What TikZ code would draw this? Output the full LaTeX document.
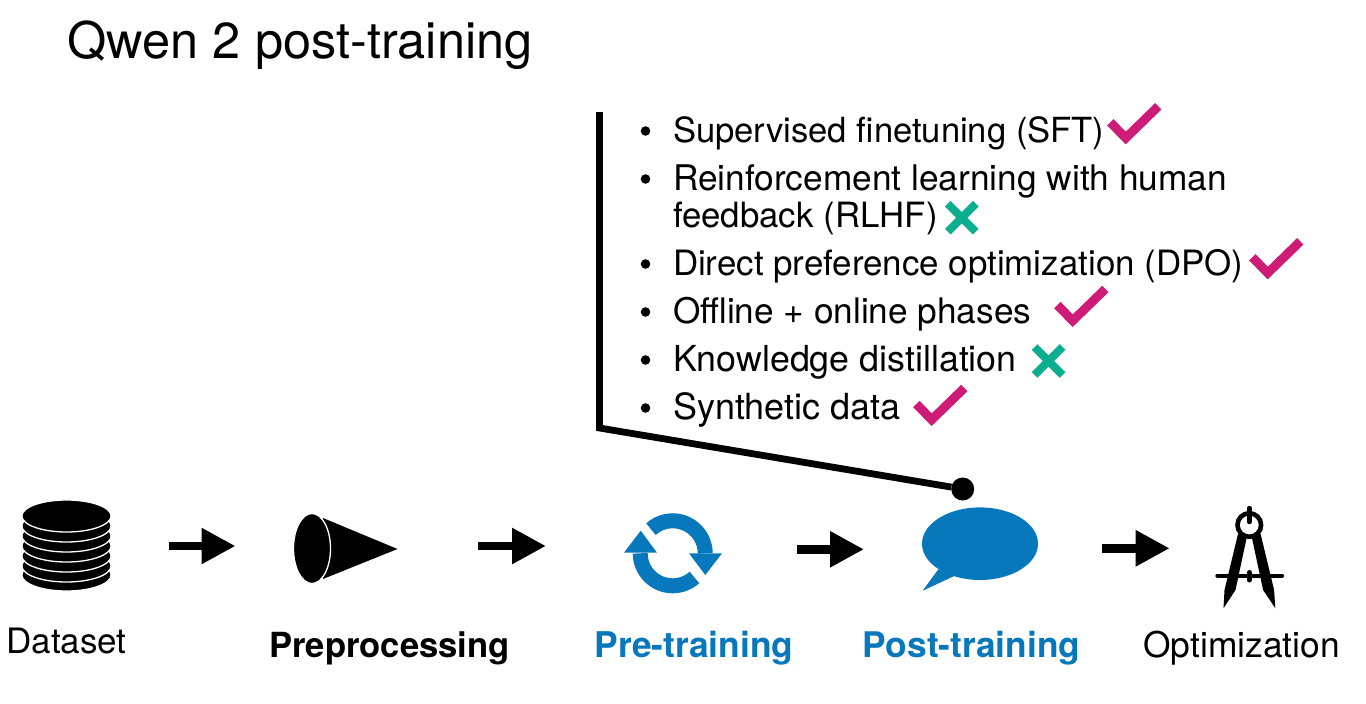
\documentclass[tikz,border=0pt]{standalone}
\usepackage{fontspec}
\setmainfont{TeX Gyre Heros}
\usetikzlibrary{arrows.meta}
\definecolor{stageblue}{HTML}{0878BC}
\definecolor{tickpink}{HTML}{CF1B78}
\definecolor{crossteal}{HTML}{0BAE8E}
\tikzset{
  every node/.style={inner sep=0pt,outer sep=0pt},
  icon/.style={rectangle,draw=none,fill=none},
  stage/.style={anchor=base,font=\fontsize{#1}{37}\selectfont},
  listitem/.style={anchor=base west,align=left,font=\fontsize{#1}{37}\selectfont},
  flow/.style={-{Triangle[length=34pt,width=34pt]},line width=8.5pt},
  disk/.style={fill=black,draw=white,line width=1.3pt},
  tick/.pic={\draw[tickpink,line width=9pt] (-15.4,15.7) -- (0,0) -- (32.6,31.7);},
  cross/.pic={\draw[crossteal,line width=8pt] (-14,-14) -- (14,14) (-14,14) -- (14,-14);}
}

\begin{document}
\begin{tikzpicture}[x=1pt,y=1pt]
\useasboundingbox (0,0) rectangle (1366,-704);

\node[anchor=base west,font=\fontsize{50.5}{54}\selectfont] (title) at (67.5,-58) {Qwen 2 post-training};

% list
\foreach \ypos in {131,179,264,312,360,408}
  \fill (645.5,-\ypos) circle (4.8pt);
\node[listitem=34.6] (sft) at (673,-142) {Supervised finetuning (SFT)};
\node[listitem=35.3] (rlhf) at (673,-227) {Reinforcement learning with human\\\fontsize{34.8}{37}\selectfont feedback (RLHF)};
\node[listitem=34.9] (dpo) at (673,-275) {Direct preference optimization (DPO)};
\node[listitem=35.2] (phases) at (673,-323) {Offline + online phases};
\node[listitem=35.8] (distill) at (673,-371) {Knowledge distillation};
\node[listitem=36] (synth) at (673,-419) {Synthetic data};

\pic at (1125.7,-138) {tick};
\pic at (961.7,-217.7) {cross};
\pic at (1267.7,-273) {tick};
\pic at (1072.7,-320.7) {tick};
\pic at (1048.5,-361) {cross};
\pic at (931.7,-419.7) {tick};

% stage icons
\node[icon,minimum width=88pt,minimum height=90pt] (dataset) at (66.5,-546) {};
\node[icon,minimum width=104pt,minimum height=70pt] (prep) at (346,-546) {};
\node[icon,minimum width=98pt,minimum height=80pt] (pretrain) at (673,-553) {};
\node[icon,minimum width=116pt,minimum height=84pt] (posttrain) at (980,-549.3) {};
\node[icon,minimum width=66pt,minimum height=102pt] (optim) at (1249.7,-548.3) {};

\foreach \ypos in {575,566,556,546,536,526,516}
  \draw[disk] (66.5,-\ypos) ellipse (44.6pt and 16pt);

\fill (323,-518) -- (397.5,-549) -- (323,-579) -- cycle;
\draw[fill=black,draw=white,line width=1.3pt] (312,-548.5) ellipse (18.5pt and 35pt);

\draw[stageblue,line width=15pt] (672.7,-553.3) ++(132:32.5) arc (132:0:32.5);
\draw[stageblue,line width=15pt] (672.7,-553.3) ++(180:32.5) arc (180:312:32.5);
\fill[stageblue] (689,-553.3) -- (722,-553.3) -- (705.3,-575) -- cycle;
\fill[stageblue] (624,-552.7) -- (657,-552.7) -- (640.7,-530.7) -- cycle;

\fill[stageblue] (980,-543.7) ellipse (58pt and 36.3pt);
\fill[stageblue] (938.3,-569.3) -- (922.7,-590.7) -- (954.3,-576) -- cycle;

\draw[line width=4.6pt] (1249.3,-525) circle (11.8pt);
\draw[line width=4.4pt,line cap=round] (1249.3,-508) -- (1249.3,-522);
\draw[line width=4.4pt,line cap=round] (1217.5,-575.7) -- (1282,-575.7);
\draw[line width=5pt,line cap=round] (1249.3,-572.5) -- (1249.3,-580);
\fill (1238,-534) -- (1247.5,-534) -- (1235.5,-590) -- (1223.5,-608.3) -- (1224.5,-590) -- cycle;
\fill (1260.6,-534) -- (1251.1,-534) -- (1263.1,-590) -- (1275.3,-608.3) -- (1274.1,-590) -- cycle;

% arrows
\draw[flow,shorten <=58.5pt,shorten >=58.5pt] (dataset.east) -- (prep.west);
\draw[flow,shorten <=80pt,shorten >=78pt] (prep.east) -- (pretrain.west |- prep.east);
\draw[flow,shorten <=75pt,shorten >=58pt] (pretrain.east |- posttrain.west) -- (posttrain.west);
\draw[flow,shorten <=64pt,shorten >=47pt] (posttrain.east |- optim.west) -- (optim.west);

% callout
\coordinate (spinetop) at (599.5,-112);
\coordinate (spinebend) at (599.5,-428);
\node[circle,fill=black,minimum size=23pt] (pin) at (962.7,-489) {};
\draw[line width=6.8pt] (spinetop) -- (spinebend) -- (pin);

% labels
\node[stage=35] (lbldataset) at (66.5,-653) {Dataset};
\node[stage=34.6] (lblprep) at (389.5,-657) {\bfseries Preprocessing};
\node[stage=35.4,text=stageblue] (lblpre) at (694,-657) {\bfseries Pre-training};
\node[stage=35.3,text=stageblue] (lblpost) at (971.5,-657) {\bfseries Post-training};
\node[stage=35.4] (lbloptim) at (1241.5,-657) {Optimization};

\end{tikzpicture}
\end{document}
